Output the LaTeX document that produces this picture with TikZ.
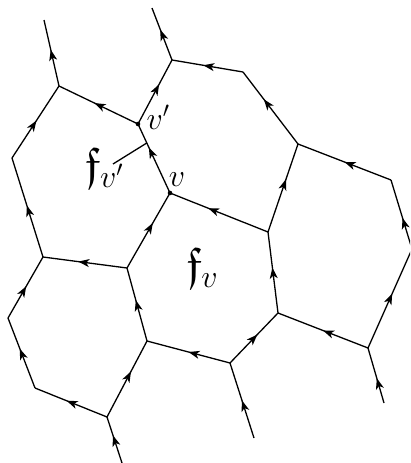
\RequirePackage{fix-cm}
\documentclass[tikz,border=0pt]{standalone}
\usepackage{amssymb}
\usetikzlibrary{decorations.markings,arrows.meta,calc}
\tikzset{
  edge/.style={line width=1.3pt, postaction={decorate},
    decoration={markings, mark=at position #1 with {\arrow{Stealth[length=11pt,width=8pt,inset=3pt]}}}},
  edge/.default=0.55,
  plain/.style={line width=1.3pt},
  lbl/.style={inner sep=0pt, font=\fontsize{32}{36}\selectfont},
}
\newcommand{\bigf}{\scalebox{1.45}{$\mathfrak{f}$}}
\begin{document}
\begin{tikzpicture}[x=1pt,y=-1pt]
\useasboundingbox (0,0) rectangle (410,463);
\begin{scope}
\clip (0,0) rectangle (410,463);
% vertices
\coordinate (A) at (59,86);
\coordinate (Atop) at (44,20);
\coordinate (vp) at (138,124);
\coordinate (B) at (12,158);
\coordinate (N) at (43,257);
\coordinate (D) at (172,60);
\coordinate (Dtop) at (152,8);
\coordinate (E) at (243,72);
\coordinate (v) at (170,193);
\coordinate (F) at (298,144);
\coordinate (G) at (391,180);
\coordinate (R) at (412,249);
\coordinate (H) at (368,348);
\coordinate (Hbot) at (384,403);
\coordinate (I) at (268,232);
\coordinate (J) at (278,313);
\coordinate (K) at (230,363);
\coordinate (Kbot) at (254,438);
\coordinate (L) at (147,341);
\coordinate (M) at (127,268);
\coordinate (O) at (8,318);
\coordinate (P) at (35,388);
\coordinate (Q) at (107,417);
\coordinate (Qbot) at (122,463);
% edges
\draw[edge=0.55] (A) -- (Atop);
\draw[edge=0.55] (vp) -- (A);
\draw[edge=0.52] (B) -- (A);
\draw[edge=0.52] (N) -- (B);
\draw[edge=0.62] (vp) -- (D);
\draw[edge=0.58] (D) -- (Dtop);
\draw[edge=0.56] (E) -- (D);
\draw[edge=0.66] (v) -- (vp);
\draw[edge=0.62] (F) -- (E);
\draw[edge=0.5] (G) -- (F);
\draw[edge=0.45] (R) -- (G);
\draw[edge=0.55] (H) -- (R);
\draw[edge=0.6] (I) -- (F);
\draw[edge=0.61] (I) -- (v);
\draw[edge=0.56] (J) -- (I);
\draw[edge=0.5] (H) -- (J);
\draw[edge=0.45] (Hbot) -- (H);
\draw[edge=0.57] (K) -- (J);
\draw[edge=0.5] (Kbot) -- (K);
\draw[edge=0.5] (K) -- (L);
\draw[edge=0.56] (L) -- (M);
\draw[edge=0.58] (M) -- (N);
\draw[edge=0.6] (M) -- (v);
\draw[edge=0.52] (O) -- (N);
\draw[edge=0.56] (P) -- (O);
\draw[edge=0.56] (Q) -- (P);
\draw[edge=0.6] (Q) -- (L);
\draw[edge=0.6] (Qbot) -- (Q);
\end{scope}
% dots
\fill (v) circle (2.3pt);
\fill (vp) circle (2.3pt);
% labels
\node[lbl] (lv) at (177,180) {$v$};
\node[lbl] (lvp) at (158,117) {$v'$};
\node[lbl] (fv) at (202,268) {\bigf\raisebox{-8pt}{$v$}};
\node[lbl] (fvp) at (104,168) {\bigf\raisebox{-8pt}{$v'$}};
\coordinate (fl) at (113,164);
\coordinate (lm) at ($(v)!0.725!(vp)$);
\draw[plain] (fl) -- (lm);
\end{tikzpicture}
\end{document}
